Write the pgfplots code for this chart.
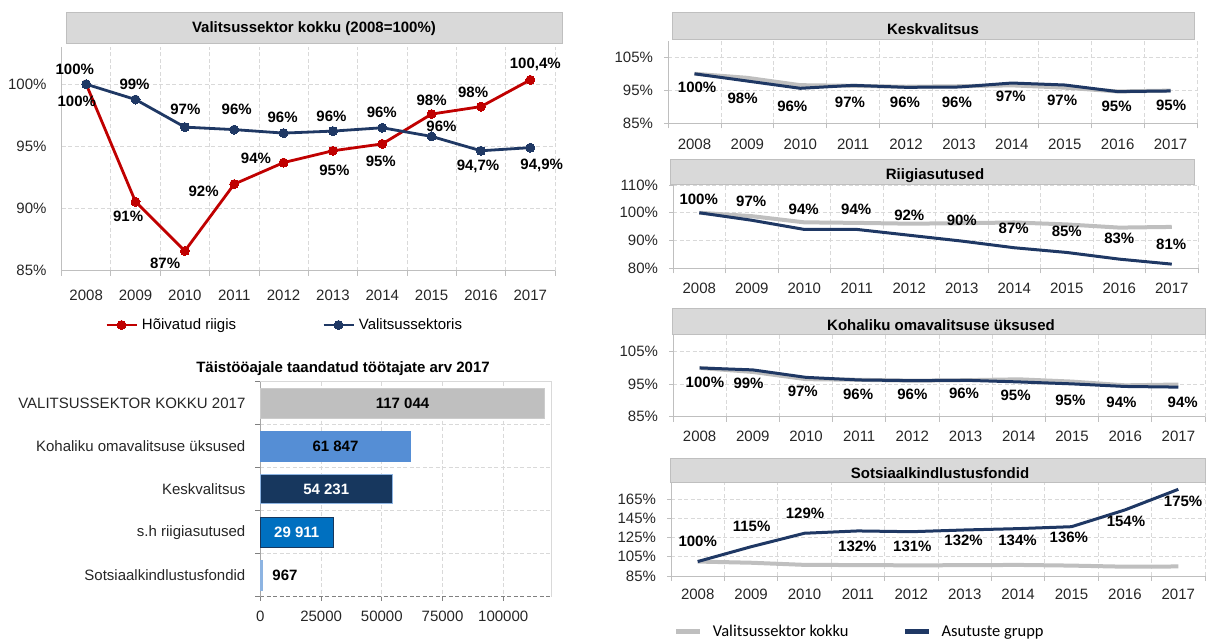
\documentclass[border=0pt]{standalone}
\usepackage{fontspec}
\setmainfont{Liberation Sans}
\newfontfamily\legfont{Carlito}
\usepackage{pgfplots}
\pgfplotsset{compat=1.18}
\definecolor{cred}{HTML}{C00000}
\definecolor{cnavy}{HTML}{1F3864}
\definecolor{cgrayline}{HTML}{BFBFBF}
\definecolor{cbox}{HTML}{D9D9D9}
\definecolor{cboxdraw}{HTML}{BFBFBF}
\definecolor{cgrid}{HTML}{D9D9D9}
\definecolor{caxis}{HTML}{BFBFBF}
\definecolor{ctick}{HTML}{262626}
\definecolor{cbarA}{HTML}{BFBFBF}
\definecolor{cbarB}{HTML}{558ED5}
\definecolor{cbarC}{HTML}{17375E}
\definecolor{cbarD}{HTML}{0070C0}
\definecolor{cbarE}{HTML}{8DB4E2}
\newcommand{\fs}{\fontsize{15}{18}\selectfont}
\tikzset{lab/.style={font=\bfseries\fs, text=black}}
\pgfplotsset{
  base/.style={
    scale only axis, clip=false,
    tick label style={font=\fs, text=ctick},
    tick style={caxis, line width=0.8pt},
    tick align=outside,
    major tick length=4pt, minor tick length=5pt,
    grid style={cgrid, dash pattern=on 4pt off 2.5pt, line width=0.8pt},
    yticklabel style={xshift=-7.5pt},
  },
  yearaxis/.style={base,
    xmin=-0.5, xmax=9.5,
    xtick={0,...,9},
    xticklabels={2008,2009,2010,2011,2012,2013,2014,2015,2016,2017},
    minor xtick={-0.5,0.5,...,9.5},
    xminorgrids=true, ymajorgrids=true,
    axis x line*=bottom, axis y line*=left,
    axis line style={caxis, line width=0.8pt, -},
    major x tick style={draw=none},
    ytick pos=left,
  },
  totline/.style={cgrayline, line width=4pt, line join=round},
  grpline/.style={cnavy, line width=3pt, line join=round},
}
\newcommand{\lab}[3]{\node[lab] at (axis cs:#1,#2) {#3};}
\begin{document}
\begin{tikzpicture}
\useasboundingbox (0,0) rectangle (1206pt,639pt);
% ---------- Title boxes ----------
\node[draw=cboxdraw, fill=cbox, line width=1pt, minimum width=496pt, minimum height=31pt, inner sep=0pt] at (314pt,610.6pt) {};
\node[lab] at (314pt,610pt) {Valitsussektor kokku (2008=100\%)};
\node[draw=cboxdraw, fill=cbox, line width=1pt, minimum width=522pt, minimum height=26.6pt, inner sep=0pt] at (933.5pt,613pt) {};
\node[lab] at (933pt,610pt) {Keskvalitsus};
\node[draw=cboxdraw, fill=cbox, line width=1pt, minimum width=524pt, minimum height=24.7pt, inner sep=0pt] at (932pt,467.3pt) {};
\node[lab] at (935pt,463.3pt) {Riigiasutused};
\node[draw=cboxdraw, fill=cbox, line width=1pt, minimum width=533pt, minimum height=25.7pt, inner sep=0pt] at (939.3pt,317.8pt) {};
\node[lab] at (941pt,314pt) {Kohaliku omavalitsuse üksused};
\node[draw=cboxdraw, fill=cbox, line width=1pt, minimum width=535pt, minimum height=24.4pt, inner sep=0pt] at (938.4pt,168.5pt) {};
\node[lab] at (940pt,165.7pt) {Sotsiaalkindlustusfondid};
\node[lab] at (343pt,270pt) {Täistööajale taandatud töötajate arv 2017};

% ---------- A: top-left ----------
\begin{axis}[yearaxis, at={(61.5pt,368.2pt)}, anchor=south west,
  width=493.5pt, height=223.9pt,
  ymin=85, ymax=103, ytick={85,90,95,100},
  yticklabels={85\%,90\%,95\%,100\%},
  major y tick style={draw=none},
  xticklabel style={yshift=-11.8pt},
  legend style={at={(0.088,-0.242)}, anchor=west, draw=none, fill=none,
    legend columns=2, font=\fs, inner sep=0pt,
    /tikz/every odd column/.append style={column sep=2pt},
    /tikz/every even column/.append style={column sep=84pt}},
  legend cell align=left,
  legend image code/.code={\draw[mark repeat=2,mark phase=2,#1] plot coordinates {(0pt,0pt) (15pt,0pt) (30pt,0pt)};},
]
\addplot[cred, line width=2.8pt, mark=*, mark size=4.5pt, mark options={solid, fill=cred, draw=cred, line width=0pt}]
 coordinates {(0,100) (1,90.55) (2,86.6) (3,91.97) (4,93.7) (5,94.65) (6,95.2) (7,97.6) (8,98.2) (9,100.35)};
\addlegendentry{Hõivatud riigis}
\addplot[cnavy, line width=2.8pt, mark=*, mark size=4.5pt, mark options={solid, fill=cnavy, draw=cnavy, line width=0pt}]
 coordinates {(0,100) (1,98.77) (2,96.55) (3,96.35) (4,96.07) (5,96.23) (6,96.5) (7,95.8) (8,94.65) (9,94.9)};
\addlegendentry{Valitsussektoris}
\lab{-0.23}{101.2}{100\%}
\lab{-0.19}{98.66}{100\%}
\lab{0.98}{100.02}{99\%}
\lab{2.01}{97.99}{97\%}
\lab{3.05}{97.99}{96\%}
\lab{3.98}{97.35}{96\%}
\lab{4.97}{97.4}{96\%}
\lab{5.99}{97.75}{96\%}
\lab{7.2}{96.6}{96\%}
\lab{7.94}{93.38}{94,7\%}
\lab{9.23}{93.46}{94,9\%}
\lab{0.85}{89.36}{91\%}
\lab{1.6}{85.6}{87\%}
\lab{2.38}{91.37}{92\%}
\lab{3.44}{94.01}{94\%}
\lab{5.03}{93.1}{95\%}
\lab{5.97}{93.78}{95\%}
\lab{7.0}{98.74}{98\%}
\lab{7.84}{99.36}{98\%}
\lab{9.1}{101.63}{100,4\%}
\end{axis}

% ---------- B: bar chart ----------
\begin{axis}[base, at={(260.4pt,42.3pt)}, anchor=south west,
  width=291.4pt, height=215pt,
  xmin=0, xmax=120000, ymin=-0.5, ymax=4.5, y dir=reverse,
  xtick={0,25000,50000,75000,100000},
  xticklabels={0,25000,50000,75000,100000},
  scaled x ticks=false,
  xticklabel style={yshift=-7pt},
  ytick={0,1,2,3,4},
  yticklabels={VALITSUSSEKTOR KOKKU 2017,Kohaliku omavalitsuse üksused,Keskvalitsus,s.h riigiasutused,Sotsiaalkindlustusfondid},
  minor ytick={-0.5,0.5,...,4.5},
  yminorgrids=true, xmajorgrids=true,
  major y tick style={draw=none},
  tick style={gray, line width=0.8pt},
  axis x line*=bottom, axis y line*=left,
  x axis line style={gray, line width=0.8pt, dash pattern=on 4pt off 2.5pt, -},
  y axis line style={gray!70, line width=0.8pt, -},
  xbar, bar width=29.3pt,
]
\draw[cgrid, line width=0.8pt] (rel axis cs:0,1) -- (rel axis cs:1,1) -- (rel axis cs:1,0);
\addplot[fill=cbarA, draw=cbarA!80, line width=0.6pt, bar shift=0pt] coordinates {(117044,0)};
\addplot[fill=cbarB, draw=cbarB, line width=0.6pt, bar shift=0pt] coordinates {(61847,1)};
\addplot[fill=cbarC, draw=cbarE, line width=0.8pt, bar shift=0pt] coordinates {(54231,2)};
\addplot[fill=cbarD, draw=cbarC, line width=0.6pt, bar shift=0pt] coordinates {(29911,3)};
\addplot[fill=cbarE, draw=cbarE, line width=0.6pt, bar shift=0pt] coordinates {(967,4)};
\lab{58522}{0}{117 044}
\lab{30923}{1}{61 847}
\node[lab, text=white] at (axis cs:27115,2) {54 231};
\node[lab, text=white] at (axis cs:14955,3) {29 911};
\node[lab, anchor=west] at (axis cs:3500,4) {967};
\end{axis}

% ---------- C: Keskvalitsus ----------
\begin{axis}[yearaxis, at={(668pt,515.7pt)}, anchor=south west,
  width=529pt, height=82.5pt,
  ymin=85, ymax=110, ytick={85,95,105}, yticklabels={85\%,95\%,105\%},
  xticklabel style={yshift=-8.3pt},
]
\addplot[totline] coordinates {(0,100) (1,98.77) (2,96.55) (3,96.35) (4,96.07) (5,96.23) (6,96.5) (7,95.8) (8,94.65) (9,94.9)};
\addplot[grpline] coordinates {(0,100) (1,97.8) (2,95.6) (3,96.5) (4,95.9) (5,96.0) (6,97.2) (7,96.6) (8,94.6) (9,94.8)};
\lab{0.05}{95.9}{100\%}
\lab{0.91}{92.6}{98\%}
\lab{1.85}{90.2}{96\%}
\lab{2.94}{91.5}{97\%}
\lab{3.98}{91.2}{96\%}
\lab{4.96}{91.5}{96\%}
\lab{5.98}{93.1}{97\%}
\lab{6.95}{92.1}{97\%}
\lab{7.98}{90.0}{95\%}
\lab{9.01}{90.5}{95\%}
\end{axis}

% ---------- D: Riigiasutused ----------
\begin{axis}[yearaxis, at={(673pt,370.7pt)}, anchor=south west,
  width=525pt, height=83.3pt,
  ymin=80, ymax=110, ytick={80,90,100,110}, yticklabels={80\%,90\%,100\%,110\%},
  xticklabel style={yshift=-7.3pt},
]
\addplot[totline] coordinates {(0,100) (1,98.77) (2,96.55) (3,96.35) (4,96.07) (5,96.23) (6,96.5) (7,95.8) (8,94.65) (9,94.9)};
\addplot[grpline] coordinates {(0,100) (1,97.3) (2,94.0) (3,94.0) (4,91.9) (5,89.8) (6,87.4) (7,85.7) (8,83.3) (9,81.5)};
\lab{-0.01}{105.0}{100\%}
\lab{0.99}{104.2}{97\%}
\lab{1.99}{101.3}{94\%}
\lab{2.99}{101.3}{94\%}
\lab{4.0}{99.2}{92\%}
\lab{5.0}{97.1}{90\%}
\lab{5.99}{94.4}{87\%}
\lab{7.0}{93.2}{85\%}
\lab{8.0}{90.8}{83\%}
\lab{8.99}{88.8}{81\%}
\end{axis}

% ---------- E: Kohaliku omavalitsuse üksused ----------
\begin{axis}[yearaxis, at={(673pt,222.3pt)}, anchor=south west,
  width=532pt, height=81.25pt,
  ymin=85, ymax=110, ytick={85,95,105}, yticklabels={85\%,95\%,105\%},
  xticklabel style={yshift=-7pt},
]
\addplot[totline] coordinates {(0,100) (1,98.77) (2,96.55) (3,96.35) (4,96.07) (5,96.23) (6,96.5) (7,95.8) (8,94.65) (9,94.9)};
\addplot[grpline] coordinates {(0,100) (1,99.4) (2,97.1) (3,96.3) (4,96.1) (5,96.2) (6,95.7) (7,95.1) (8,94.3) (9,94.1)};
\lab{0.1}{95.6}{100\%}
\lab{0.92}{95.3}{99\%}
\lab{1.94}{92.7}{97\%}
\lab{2.98}{92.0}{96\%}
\lab{4.0}{92.0}{96\%}
\lab{4.97}{92.2}{96\%}
\lab{5.94}{91.5}{95\%}
\lab{6.97}{89.9}{95\%}
\lab{7.93}{89.4}{94\%}
\lab{9.08}{89.4}{94\%}
\end{axis}

% ---------- F: Sotsiaalkindlustusfondid ----------
\begin{axis}[yearaxis, at={(671pt,63pt)}, anchor=south west,
  width=534pt, height=93.4pt,
  ymin=85, ymax=182, ytick={85,105,125,145,165},
  yticklabels={85\%,105\%,125\%,145\%,165\%},
  xticklabel style={yshift=-5.4pt},
  legend style={at={(0.005,-0.596)}, anchor=west, draw=none, fill=none,
    legend columns=2, font=\legfont\fontsize{16.5}{19}\selectfont, inner sep=0pt,
    /tikz/every odd column/.append style={column sep=8pt},
    /tikz/every even column/.append style={column sep=52pt}},
  legend cell align=left,
  legend image code/.code={\draw[#1, line width=5pt] (0pt,0pt) -- (24pt,0pt);},
]
\addplot[totline] coordinates {(0,100) (1,98.77) (2,96.55) (3,96.35) (4,96.07) (5,96.23) (6,96.5) (7,95.8) (8,94.65) (9,94.9)};
\addlegendentry{Valitsussektor kokku}
\addplot[grpline] coordinates {(0,100) (1,115.4) (2,129.4) (3,131.8) (4,131.0) (5,132.8) (6,134.2) (7,136.2) (8,153.6) (9,175.0)};
\addlegendentry{Asutuste grupp}
\lab{0.0}{120.6}{100\%}
\lab{1.01}{136.2}{115\%}
\lab{2.01}{150.1}{129\%}
\lab{2.99}{115.4}{132\%}
\lab{4.02}{115.4}{131\%}
\lab{4.98}{121.7}{132\%}
\lab{5.99}{122.4}{134\%}
\lab{6.95}{124.8}{136\%}
\lab{8.02}{141.4}{154\%}
\lab{9.09}{162.2}{175\%}
\end{axis}
\end{tikzpicture}
\end{document}
